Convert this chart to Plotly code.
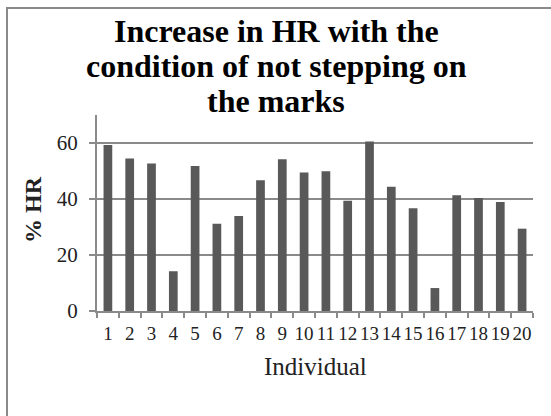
import plotly.graph_objects as go

individuals = [str(i) for i in range(1, 21)]
hr_increase = [59.3, 54.5, 52.7, 14.2, 51.8, 31.2, 33.9, 46.7, 54.2, 49.5,
               49.9, 39.4, 60.5, 44.4, 36.7, 8.2, 41.3, 40.4, 38.9, 29.4]
y_ticks = [0, 20, 40, 60]
title_lines = ["Increase in HR with the", "condition of not stepping on", "the marks"]
x_title = "Individual"
y_title = "% HR"

W, H = 551, 416
L, R, T, B = 97, 533, 115, 311
pw, ph = R - L, B - T

def px(x):
    return (x - L) / pw

def py(y):
    return (B - y) / ph

GRID = "#8a8a8a"
BAR = "#595959"
SERIF = "Liberation Serif, Times New Roman, serif"

fig = go.Figure(go.Bar(x=individuals, y=hr_increase, marker=dict(color=BAR, line=dict(width=0)),
                       width=0.4))

fig.update_layout(
    width=W, height=H,
    margin=dict(l=L, r=W - R, t=T, b=H - B, autoexpand=False),
    paper_bgcolor="white", plot_bgcolor="white",
    showlegend=False,
    font=dict(family=SERIF, color="#222222"),
)
fig.update_xaxes(
    type="category", showline=True, linecolor=GRID, linewidth=2,
    tickmode="array", tickvals=individuals, ticktext=individuals, tickangle=0,
    ticks="outside", tickson="boundaries", ticklen=5, tickcolor=GRID, tickwidth=2,
    tickfont=dict(size=19, family=SERIF, color="#222222"),
    showgrid=False, zeroline=False, automargin=False, ticklabelstandoff=4,
)
fig.update_yaxes(
    range=[0, 70], tickvals=y_ticks, showline=True, linecolor=GRID, linewidth=2,
    ticks="outside", ticklen=6, tickcolor=GRID, tickwidth=2,
    tickfont=dict(size=21, family=SERIF, color="#222222"),
    showgrid=True, gridcolor=GRID, gridwidth=2, zeroline=False,
    ticklabelstandoff=7, automargin=False,
)

annotations = []
title_y = [31, 66, 101]
for line, yy in zip(title_lines, title_y):
    annotations.append(dict(text="<b>%s</b>" % line, xref="paper", yref="paper",
                            x=px(276), y=py(yy), xanchor="center", yanchor="middle",
                            showarrow=False, font=dict(size=32, family=SERIF, color="black")))
annotations.append(dict(text=x_title, xref="paper", yref="paper", x=px(315), y=py(366),
                        xanchor="center", yanchor="middle", showarrow=False,
                        font=dict(size=25, family=SERIF, color="#222222")))
annotations.append(dict(text="<b>%s</b>" % y_title, xref="paper", yref="paper", x=px(33), y=py(210),
                        xanchor="center", yanchor="middle", showarrow=False, textangle=-90,
                        font=dict(size=24, family=SERIF, color="#222222")))
fig.update_layout(annotations=annotations)

fig.add_shape(type="rect", xref="paper", yref="paper",
              x0=px(7), x1=px(570), y0=py(8), y1=py(440),
              line=dict(color=GRID, width=2), fillcolor="rgba(0,0,0,0)", layer="below")

fig.write_html("out.html", config={"displayModeBar": False},
               post_script="document.body.style.margin='0px';document.body.style.overflow='hidden';")
